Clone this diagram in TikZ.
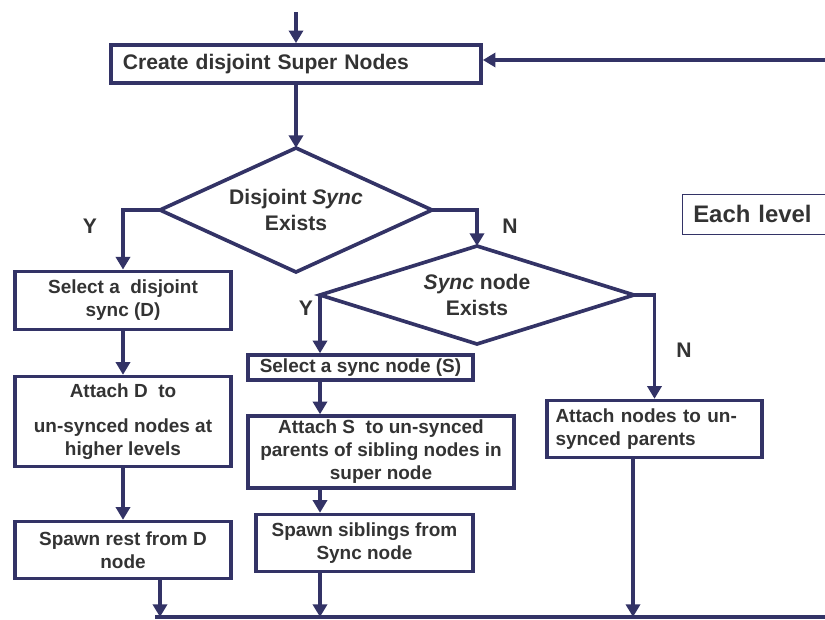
\documentclass[tikz,border=0pt]{standalone}
\usepackage{fontspec}
\setmainfont{Liberation Sans}
\usetikzlibrary{arrows.meta}
\definecolor{azul}{RGB}{51,51,102}
\definecolor{texto}{RGB}{51,51,51}
\begin{document}
\begin{tikzpicture}[
  paso/.style={draw=azul, line width=2.6pt, align=center, inner sep=1mm,
               text=texto, font=\fontsize{13.5}{16.4}\selectfont\bfseries},
  rombo/.style={align=center, inner sep=0pt, outer sep=0pt,
                text=texto, font=\fontsize{15}{18}\selectfont\bfseries},
  marca/.style={text=texto, font=\fontsize{15}{18}\selectfont\bfseries},
  flecha/.style={draw=azul, line width=2.6pt, -{Triangle[length=9pt,width=10pt]}},
  linea/.style={draw=azul, line width=2.6pt, line join=miter}
]
  \clip (0,0) rectangle (20.625,-15.5);
  \node[paso, minimum width=9.25cm, minimum height=0.95cm, text width=8.65cm,
        align=left, font=\fontsize{15}{18}\selectfont\bfseries] (crear) at (7.4,-1.6)
        {Create disjoint Super Nodes};
  \node[rombo, minimum width=6.8cm, minimum height=3.1cm] (disj) at (7.4,-5.25)
        {Disjoint \textit{Sync}\\Exists};
  \node[rombo, minimum width=7.85cm, minimum height=2.45cm] (sync) at (11.925,-7.375)
        {\textit{Sync} node\\Exists};
  \draw[linea] (disj.north) -- (disj.east) -- (disj.south) -- (disj.west) -- cycle;
  \draw[linea] (sync.north) -- (sync.east) -- (sync.south) -- (sync.west) -- cycle;
  \node[paso, minimum width=5.4cm, minimum height=1.45cm] (selD) at (3.075,-7.51)
        {Select a\ \ disjoint\\sync (D)};
  \node[paso, minimum width=5.4cm, minimum height=2.25cm] (attD) at (3.075,-10.54)
        {Attach D\ \ to\\[8pt]un-synced nodes at\\higher levels};
  \node[paso, minimum width=5.4cm, minimum height=1.42cm] (spD) at (3.075,-13.75)
        {Spawn rest from D\\node};
  \node[paso, minimum width=5.62cm, minimum height=0.62cm, inner sep=0pt] (selS)
        at (9.0125,-9.1875) {Select a sync node (S)};
  \node[paso, minimum width=6.65cm, minimum height=1.7cm] (attS) at (9.525,-11.3)
        {Attach S\ \ to un-synced\\parents of sibling nodes in\\super node};
  \node[paso, minimum width=5.42cm, minimum height=1.42cm] (spS) at (9.1125,-13.575)
        {Spawn siblings from\\Sync node};
  \node[paso, minimum width=5.37cm, minimum height=1.42cm, text width=4.95cm,
        align=left] (attN) at (16.3625,-10.725)
        {Attach nodes to un-\\synced parents};
  \node[draw=azul, line width=0.7pt, anchor=west, minimum height=1.0cm,
        text width=4.2cm, inner xsep=0.27cm, align=left, text=texto,
        font=\fontsize{17}{20}\selectfont\bfseries] (nivel) at (17.05,-5.35) {Each level};
  % etiquetas Y / N
  \node[marca] (y1) at (2.25,-5.65) {Y};
  \node[marca] (n1) at (12.75,-5.65) {N};
  \node[marca] (y2) at (7.65,-7.7) {Y};
  \node[marca] (n2) at (17.1,-8.75) {N};
  % puntos sueltos
  \coordinate (entra) at (7.4,-0.3);
  \coordinate (vuelve) at (20.75,-1.5);
  \coordinate (izq) at (3.875,-15.425);
  \coordinate (der) at (20.75,-15.425);
  \coordinate (j1) at (4.0,-15.425);
  \coordinate (j2) at (8.0,-15.425);
  \coordinate (j3) at (15.825,-15.425);
  \draw[flecha] (entra) -- (crear.north);
  \draw[flecha] (vuelve) -- (vuelve -| crear.east);
  \draw[flecha] (crear.south) -- (disj.north);
  \draw[flecha] (disj.west) -| (selD.north);
  \draw[flecha] (disj.east) -| (sync.north);
  \draw[flecha] (sync.west) -- (sync.west |- selS.north);
  \draw[flecha] (sync.east) -| (attN.north);
  \draw[flecha] (selD.south) -- (attD.north);
  \draw[flecha] (attD.south) -- (spD.north);
  \draw[flecha] (sync.west |- selS.south) -- (sync.west |- attS.north);
  \draw[flecha] (sync.west |- attS.south) -- (sync.west |- spS.north);
  \draw[flecha] (j1 |- spD.south) -- (j1);
  \draw[flecha] (j2 |- spS.south) -- (j2);
  \draw[flecha, line width=2.2pt] (j3 |- attN.south) -- (j3);
  \draw[linea] (izq) -- (der);
\end{tikzpicture}
\end{document}
